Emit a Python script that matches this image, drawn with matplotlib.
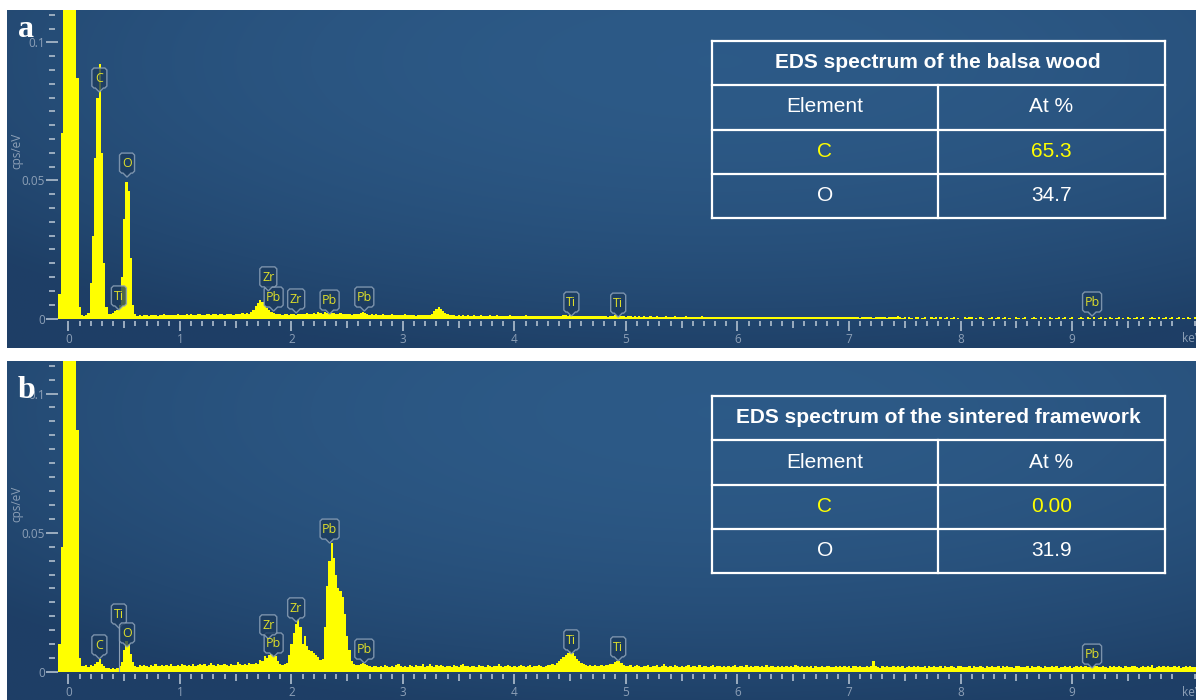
import numpy as np
import matplotlib
matplotlib.use("Agg")
import matplotlib.pyplot as plt
from matplotlib.patches import Polygon
from matplotlib.lines import Line2D
from matplotlib.transforms import IdentityTransform
from matplotlib.ticker import FixedLocator

W, H = 1196, 700

# spectra, 0.02 keV channels starting at -0.10 keV, counts in 1e-4 cps/eV
bin_width = 0.02
first_bin = -0.10

counts_a = [
    0, 90, 670, 5000, 5000, 5000, 5000, 5000, 5000, 870, 40, 12, 10, 12, 20, 130, 300, 580, 800, 920, 600, 200, 40, 15, 15,
    20, 28, 30, 50, 150, 360, 495, 460, 220, 50, 15, 10, 12, 9, 11, 13, 10, 12, 14, 11, 10, 13, 12, 15, 11,
    12, 14, 13, 12, 16, 13, 14, 12, 15, 13, 16, 14, 12, 15, 17, 13, 14, 16, 15, 13, 17, 15, 14, 18, 16,
    14, 15, 17, 16, 14, 18, 15, 17, 20, 18, 20, 18, 24, 32, 45, 55, 66, 58, 46, 38, 30, 24, 20, 18, 17,
    15, 14, 16, 15, 13, 17, 15, 14, 16, 18, 15, 17, 19, 16, 18, 20, 17, 22, 19, 18, 24, 20, 17, 19, 21,
    18, 16, 20, 17, 15, 18, 16, 14, 17, 15, 18, 20, 24, 19, 16, 14, 15, 13, 16, 14, 12, 15, 13, 14, 12,
    16, 13, 11, 14, 12, 13, 15, 12, 11, 14, 12, 10, 13, 11, 12, 14, 13, 12, 18, 26, 34, 41, 36, 28, 20,
    16, 13, 11, 12, 10, 11, 9, 12, 10, 11, 9, 10, 12, 9, 10, 11, 9, 10, 8, 11, 9, 10, 12, 9, 10,
    9, 10, 8, 11, 9, 10, 9, 8, 10, 9, 11, 8, 9, 10, 8, 9, 10, 9, 8, 10, 9, 8, 9, 10, 8,
    9, 10, 11, 12, 10, 11, 9, 10, 8, 9, 10, 8, 9, 8, 10, 9, 8, 9, 8, 10, 9, 8, 7, 9, 10,
    11, 10, 9, 8, 9, 7, 8, 9, 7, 8, 6, 8, 7, 9, 7, 6, 8, 7, 6, 8, 7, 6, 7, 8, 6,
    7, 6, 8, 7, 5, 7, 6, 8, 6, 7, 5, 6, 7, 6, 8, 5, 6, 7, 5, 6, 7, 6, 5, 7, 6,
    5, 6, 7, 5, 6, 5, 7, 6, 5, 6, 4, 6, 5, 7, 5, 6, 4, 5, 6, 5, 7, 5, 4, 6, 5,
    6, 5, 4, 6, 5, 4, 6, 5, 7, 4, 5, 6, 4, 5, 6, 5, 4, 6, 5, 4, 5, 6, 4, 5, 4,
    5, 4, 6, 4, 5, 4, 6, 5, 4, 5, 3, 5, 4, 6, 4, 5, 3, 4, 5, 4, 6, 4, 3, 5, 4,
    4, 5, 8, 4, 3, 5, 0, 4, 3, 0, 4, 5, 0, 3, 4, 0, 0, 4, 3, 5, 0, 4, 0, 3, 4,
    0, 3, 4, 0, 3, 0, 0, 4, 3, 5, 4, 0, 3, 0, 4, 3, 0, 0, 3, 4, 0, 3, 4, 0, 3,
    4, 0, 3, 0, 0, 4, 3, 0, 3, 4, 0, 0, 3, 4, 3, 0, 4, 0, 3, 0, 4, 3, 0, 3, 4,
    0, 3, 4, 0, 3, 4, 0, 0, 3, 4, 3, 0, 4, 3, 0, 4, 0, 3, 4, 0, 3, 0, 4, 3, 0,
    3, 4, 0, 3, 0, 4, 3, 0, 3, 4, 0, 3, 4, 0, 0, 3, 4, 3, 0, 4, 0, 3, 4, 0, 3,
    4, 0, 3, 4, 0, 3, 0, 4, 3, 0, 4,
]

counts_b = [
    0, 100, 450, 5000, 5000, 5000, 5000, 5000, 5000, 870, 50, 22, 20, 24, 18, 26, 22, 30, 36, 48, 28, 22, 16, 14, 12,
    14, 12, 16, 20, 35, 80, 110, 100, 65, 35, 22, 18, 24, 20, 26, 22, 19, 25, 21, 28, 23, 20, 26, 22, 24,
    21, 27, 23, 20, 25, 22, 30, 24, 21, 26, 23, 28, 22, 25, 30, 24, 27, 22, 26, 34, 25, 23, 28, 24, 26,
    30, 25, 23, 28, 26, 24, 35, 27, 25, 29, 26, 32, 27, 30, 34, 30, 42, 38, 58, 52, 60, 64, 62, 58, 40,
    30, 26, 28, 34, 60, 100, 140, 172, 190, 160, 102, 130, 92, 80, 76, 70, 60, 55, 42, 45, 160, 310, 400, 462, 410,
    350, 300, 290, 270, 210, 130, 80, 40, 30, 26, 24, 28, 32, 30, 26, 22, 18, 22, 20, 17, 21, 19, 24, 20, 18,
    22, 19, 24, 28, 20, 18, 23, 19, 26, 21, 18, 24, 20, 22, 27, 19, 23, 30, 21, 18, 24, 20, 26, 22, 19,
    23, 20, 17, 25, 21, 19, 24, 30, 22, 20, 18, 23, 21, 19, 25, 20, 22, 18, 24, 21, 19, 23, 20, 28, 22,
    19, 21, 24, 20, 18, 23, 19, 22, 26, 20, 18, 21, 24, 19, 22, 20, 25, 21, 18, 23, 26, 24, 28, 26, 32,
    38, 46, 55, 62, 68, 75, 70, 56, 48, 40, 32, 28, 24, 22, 26, 21, 24, 20, 23, 25, 22, 26, 24, 28, 30,
    36, 40, 38, 32, 26, 22, 20, 24, 19, 22, 26, 20, 18, 23, 21, 25, 19, 22, 20, 24, 18, 21, 27, 20, 19,
    22, 18, 24, 20, 17, 23, 19, 21, 25, 18, 20, 22, 19, 24, 17, 21, 23, 19, 20, 26, 18, 22, 20, 17, 21,
    19, 23, 18, 21, 25, 17, 20, 22, 18, 24, 19, 21, 17, 23, 20, 18, 22, 19, 25, 17, 20, 21, 18, 22, 19,
    20, 17, 23, 19, 21, 18, 24, 20, 17, 22, 19, 21, 18, 20, 16, 23, 19, 17, 21, 18, 20, 22, 17, 19, 21,
    18, 20, 17, 22, 19, 21, 16, 20, 20, 18, 21, 17, 19, 22, 18, 20, 38, 21, 19, 16, 20, 18, 22, 17, 19,
    21, 17, 20, 18, 22, 16, 19, 21, 17, 20, 18, 23, 17, 19, 21, 16, 20, 18, 22, 17, 19, 21, 16, 20, 18,
    17, 21, 19, 16, 20, 22, 17, 19, 18, 21, 16, 20, 18, 17, 22, 19, 16, 20, 18, 21, 17, 19, 22, 16, 20,
    18, 21, 17, 19, 16, 20, 22, 17, 19, 18, 21, 16, 20, 17, 19, 22, 18, 16, 20, 19, 17, 21, 18, 20, 16,
    19, 17, 21, 18, 20, 16, 19, 22, 17, 20, 18, 21, 17, 19, 16, 20, 22, 18, 17, 21, 19, 16, 20, 18, 21,
    17, 20, 18, 16, 21, 19, 17, 20, 22, 18, 16, 19, 21, 17, 20, 18, 24, 16, 19, 21, 17, 20, 18, 22, 19,
    17, 20, 18, 21, 16, 19, 22, 18, 20, 17, 19,
]

# element markers: (symbol, line energy keV, marker tip height cps/eV)
tags_a = [
    ("C", 0.277, 0.082), ("O", 0.525, 0.0512), ("Ti", 0.452, 0.0031),
    ("Pb", 1.84, 0.0027), ("Zr", 1.792, 0.0100), ("Zr", 2.042, 0.0020),
    ("Pb", 2.342, 0.0016), ("Pb", 2.653, 0.0027), ("Ti", 4.51, 0.0009),
    ("Ti", 4.93, 0.0005), ("Pb", 9.18, 0.0009),
]
tags_b = [
    ("C", 0.277, 0.0047), ("Ti", 0.452, 0.0158), ("O", 0.525, 0.0090),
    ("Pb", 1.84, 0.0054), ("Zr", 1.792, 0.0119), ("Zr", 2.042, 0.0180),
    ("Pb", 2.342, 0.0463), ("Pb", 2.653, 0.0032), ("Ti", 4.51, 0.0065),
    ("Ti", 4.93, 0.0040), ("Pb", 9.18, 0.0014),
]
stems_b = ["Ti"]

table_titles = ["EDS spectrum of the balsa wood", "EDS spectrum of the sintered framework"]
table_header = ["Element", "At %"]
table_elements = ["C", "O"]
at_percent_a = ["65.3", "34.7"]
at_percent_b = ["0.00", "31.9"]

tick_labels = [str(k) for k in range(10)]

TICK_C = "#9cadc0"
LABEL_C = "#8c9fb6"
TAG_W = {"C": 15, "O": 15, "Ti": 15, "Zr": 17, "Pb": 19}


def fx(px):
    return px / W


def fy(py):
    return 1 - py / H


def rect(x0, y0, x1, y1):
    return [fx(x0), fy(y1), (x1 - x0) / W, (y1 - y0) / H]


fig = plt.figure(figsize=(W / 100, H / 100), dpi=100, facecolor="white")


def backdrop(r):
    bg = fig.add_axes(r, zorder=0)
    yy, xx = np.mgrid[0:1:200j, 0:1:600j]
    d = ((xx - 0.6) / 0.8) ** 2 + ((yy - 0.15) / 0.9) ** 2
    f = np.clip(1 - d, 0, 1)[..., None]
    dark = np.array([0.118, 0.247, 0.400])
    light = np.array([0.176, 0.353, 0.530])
    bg.imshow(dark + (light - dark) * f, aspect="auto", interpolation="bilinear")
    bg.set_axis_off()


def tag(ax, name, energy, height, stem=False):
    tx, ty = ax.transData.transform((energy, height))
    w, r = TAG_W[name], 2
    x0, x1 = tx - w / 2, tx + w / 2
    yb, yt = ty + 4, ty + 24
    pts = [(x0 + r, yb), (tx - 4, yb), (tx, ty), (tx + 4, yb), (x1 - r, yb), (x1, yb + r),
           (x1, yt - r), (x1 - r, yt), (x0 + r, yt), (x0, yt - r), (x0, yb + r)]
    if stem:
        ax.plot([energy, energy], [0, height], color="#8ea0b4", lw=0.8, zorder=3)
    fig.add_artist(Polygon(pts, closed=True, transform=IdentityTransform(),
                           facecolor=(0.11, 0.23, 0.37, 0.78), edgecolor=(0.55, 0.63, 0.72, 0.85),
                           lw=1.0, zorder=5))
    fig.text(tx, (yb + yt) / 2 - 0.5, name, transform=IdentityTransform(), ha="center", va="center",
             fontsize=9, family="Open Sans", color="#dede2a", zorder=6)


def spectrum(r, counts, tags, stems, zero_px, letter, letter_py):
    ax = fig.add_axes(r, zorder=1)
    ax.patch.set_alpha(0)
    edges = first_bin - bin_width / 2 + bin_width * np.arange(len(counts) + 1)
    ax.stairs(np.array(counts) * 1e-4, edges, fill=True, color="#ffff00", lw=0, zorder=2)
    ax.set_xlim(-0.094, 10.112)
    ax.set_ylim(0, 0.1117)
    for s in ax.spines.values():
        s.set_visible(False)
    ax.spines["left"].set_position(("outward", 4.3))
    ax.spines["bottom"].set_position(("outward", 1.5))

    ax.set_xticks(range(10))
    ax.set_xticklabels(tick_labels)
    ax.xaxis.set_minor_locator(FixedLocator([k / 10 for k in range(102) if k % 10]))
    ax.set_yticks([0, 0.05, 0.1])
    ax.set_yticklabels(["0", "0.05", "0.1"])
    ax.yaxis.set_minor_locator(FixedLocator([k * 0.005 for k in range(23) if k % 10]))
    ax.tick_params(axis="x", which="major", direction="out", length=7.2, width=1.4,
                   color=TICK_C, labelcolor=LABEL_C, labelsize=8.5, pad=1.5)
    ax.tick_params(axis="x", which="minor", direction="out", length=3.4, width=1.4, color=TICK_C)
    ax.tick_params(axis="y", which="major", direction="inout", length=8.6, width=1.4,
                   color=TICK_C, labelcolor=LABEL_C, labelsize=8.5, pad=1)
    ax.tick_params(axis="y", which="minor", direction="inout", length=4.3, width=1.4, color=TICK_C)
    for t in ax.get_xticklabels() + ax.get_yticklabels():
        t.set_family("Open Sans")
    for loc, t in zip(ax.xaxis.get_minorticklocs(), ax.xaxis.get_minor_ticks()):
        if abs(loc * 10 % 10 - 5) < 1e-6:
            t.tick1line.set_markersize(5.2)

    for name, energy, height in tags:
        tag(ax, name, energy, height, stem=(name in stems and energy < 1))

    fig.text(fx(17), fy(zero_px - 168), "cps/eV", rotation=90, ha="center", va="center",
             fontsize=8.5, family="Open Sans", color=LABEL_C)
    fig.text(fx(1182), fy(zero_px + 20), "keV", ha="left", va="center",
             fontsize=8.5, family="Open Sans", color=LABEL_C)
    fig.text(fx(18), fy(letter_py), letter, ha="left", va="baseline", fontsize=23,
             weight="bold", family="Liberation Serif", color="white")
    return ax


def eds_table(top, title, values):
    left, right, mid = 711.5, 1164.5, 938.3
    rows = [top, top + 43.5, top + 88.5, top + 132.5, top + 177]
    kw = dict(transform=fig.transFigure, color="white", lw=1.6, zorder=5)
    for y in rows:
        fig.add_artist(Line2D([fx(left), fx(right)], [fy(y), fy(y)], **kw))
    for x in (left, right):
        fig.add_artist(Line2D([fx(x), fx(x)], [fy(rows[0]), fy(rows[-1])], **kw))
    fig.add_artist(Line2D([fx(mid), fx(mid)], [fy(rows[1]), fy(rows[-1])], **kw))
    cl, cr = (left + mid) / 2, (mid + right) / 2
    centres = [(rows[i] + rows[i + 1]) / 2 for i in range(4)]
    txt = dict(ha="center", va="center", family="Liberation Sans", fontsize=15, zorder=6)
    fig.text(fx((left + right) / 2), fy(centres[0]), title, weight="bold", color="white", **txt)
    fig.text(fx(cl), fy(centres[1]), table_header[0], color="white", **txt)
    fig.text(fx(cr), fy(centres[1]), table_header[1], color="white", **txt)
    colours = ["#ffff00", "white"]
    for i, (el, v) in enumerate(zip(table_elements, values)):
        fig.text(fx(cl), fy(centres[i + 2]), el, color=colours[i], **txt)
        fig.text(fx(cr), fy(centres[i + 2]), v, color=colours[i], **txt)


backdrop(rect(7, 10, 1196, 348))
backdrop(rect(7, 361, 1196, 700))

spectrum(rect(58, 10, 1196, 318.5), counts_a, tags_a, [], 318.5, "a", 37)
spectrum(rect(58, 361, 1196, 672), counts_b, tags_b, stems_b, 672, "b", 398)

eds_table(41, table_titles[0], at_percent_a)
eds_table(396, table_titles[1], at_percent_b)

fig.savefig("out.png", dpi=100, facecolor="white")
